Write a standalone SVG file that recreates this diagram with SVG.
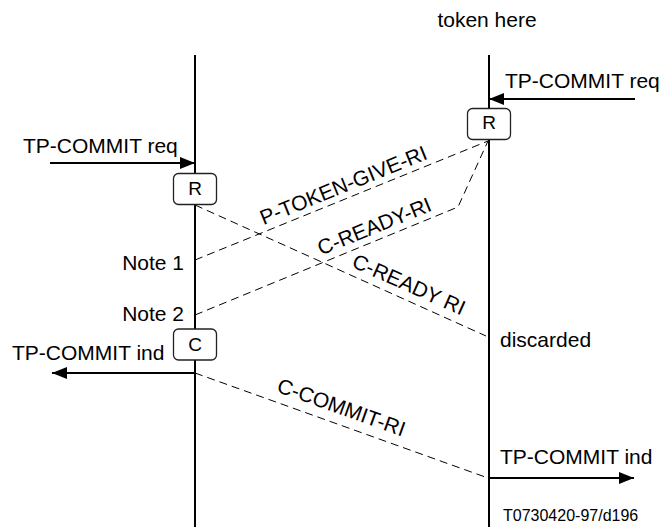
<svg xmlns="http://www.w3.org/2000/svg" width="660" height="527" viewBox="0 0 660 527">
<style>
text{font-family:"Liberation Sans",Arial,sans-serif;font-size:21px;fill:#000}
.life{stroke:#000;stroke-width:2;fill:none}
.arr{stroke:#000;stroke-width:2;fill:none}
.dash{stroke:#000;stroke-width:1;fill:none;stroke-dasharray:8,5}
.box{fill:#fff;stroke:#222;stroke-width:1.3}
.bl{font-size:19px}
.small{font-size:16px}
</style>
<defs>
<marker id="ah" markerWidth="15" markerHeight="12" refX="15" refY="6" orient="auto" markerUnits="userSpaceOnUse">
<path d="M0,0 L15,6 L0,12 Z" fill="#000"/>
</marker>
</defs>
<g id="lifelines">
<line class="life" x1="195" y1="55" x2="195" y2="527"/>
<line class="life" x1="489" y1="55" x2="489" y2="527"/>
</g>
<g id="connectors">
<line class="arr" x1="50" y1="163" x2="195" y2="163" marker-end="url(#ah)"/>
<line class="arr" x1="635" y1="99" x2="489" y2="99" marker-end="url(#ah)"/>
<line class="arr" x1="195" y1="373" x2="52" y2="373" marker-end="url(#ah)"/>
<line class="arr" x1="489" y1="478" x2="634" y2="478" marker-end="url(#ah)"/>
<line class="dash" x1="195" y1="260" x2="488" y2="141"/>
<polyline class="dash" points="195,315 458,207 488,141"/>
<line class="dash" x1="195" y1="205" x2="486" y2="336"/>
<line class="dash" x1="195" y1="373" x2="488" y2="478"/>
<text transform="translate(346,192) rotate(-22)" text-anchor="middle">P-TOKEN-GIVE-RI</text>
<text transform="translate(377,233) rotate(-22)" text-anchor="middle">C-READY-RI</text>
<text transform="translate(406,291) rotate(24)" text-anchor="middle">C-READY RI</text>
<text transform="translate(339,414) rotate(19.7)" text-anchor="middle">C-COMMIT-RI</text>
</g>
<g id="nodeR1">
<rect class="box" x="173.5" y="173.5" width="43" height="31" rx="5"/>
<text class="bl" x="195" y="195" text-anchor="middle">R</text>
</g>
<g id="nodeR2">
<rect class="box" x="467.5" y="108.5" width="43" height="31" rx="5"/>
<text class="bl" x="489" y="129" text-anchor="middle">R</text>
</g>
<g id="nodeC">
<rect class="box" x="173.5" y="329" width="43" height="31" rx="5"/>
<text class="bl" x="195" y="351" text-anchor="middle">C</text>
</g>
<g id="labels">
<text x="487" y="27" text-anchor="middle">token here</text>
<text x="23" y="153">TP-COMMIT req</text>
<text x="505" y="88">TP-COMMIT req</text>
<text x="184" y="270" text-anchor="end">Note 1</text>
<text x="184" y="321" text-anchor="end">Note 2</text>
<text x="12" y="360">TP-COMMIT ind</text>
<text x="500" y="347">discarded</text>
<text x="500" y="464">TP-COMMIT ind</text>
<text class="small" x="503" y="521">T0730420-97/d196</text>
</g>
</svg>
